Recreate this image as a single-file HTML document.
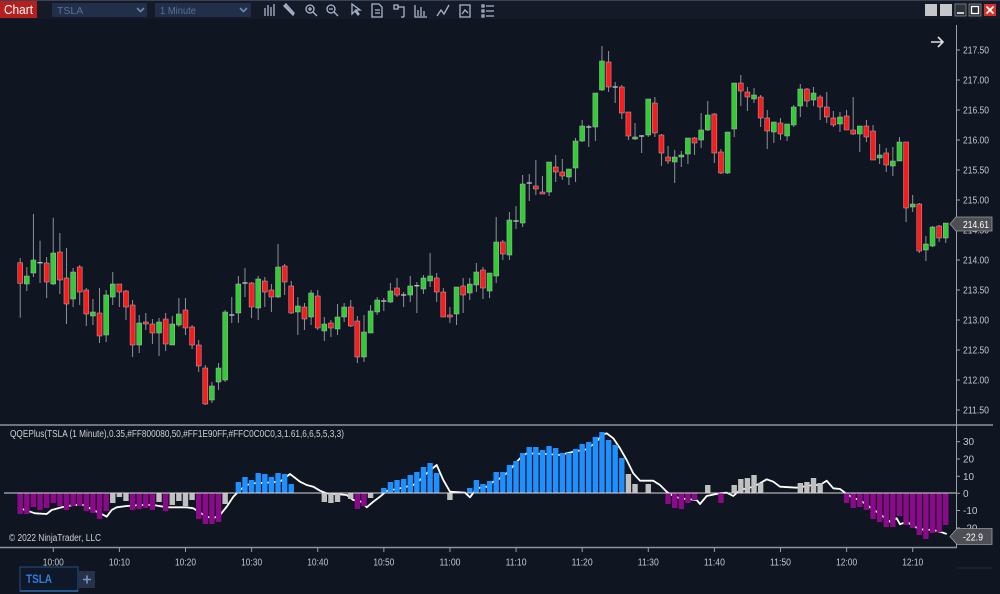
<!DOCTYPE html>
<html><head><meta charset="utf-8">
<style>
html,body{margin:0;padding:0;background:#0f1521;width:1000px;height:594px;overflow:hidden;font-family:"Liberation Sans",sans-serif;}
svg{display:block;}
</style></head>
<body>
<svg id="s" width="1000" height="594" viewBox="0 0 1000 594" xmlns="http://www.w3.org/2000/svg" font-family="Liberation Sans, sans-serif">
<rect x="0" y="0" width="1000" height="594" fill="#0f1521"/>
<rect x="0" y="0" width="1000" height="19" fill="#141a28"/>
<line x1="0" y1="0.5" x2="1000" y2="0.5" stroke="#3a4254"/>
<rect x="0" y="1" width="37" height="17" fill="#b5201f"/>
<text x="4" y="14" font-size="12.5" fill="#fff" textLength="29" lengthAdjust="spacingAndGlyphs">Chart</text>
<rect x="52" y="3" width="95" height="14" fill="#213048"/>
<text x="57" y="14" font-size="10.5" fill="#5a7099">TSLA</text>
<path d="M137 8 l3.5 3.5 l3.5 -3.5" stroke="#6f86b0" stroke-width="1.6" fill="none"/>
<rect x="155" y="3" width="96" height="14" fill="#213048"/>
<text x="160" y="14" font-size="10.5" fill="#5a7099" textLength="36" lengthAdjust="spacingAndGlyphs">1 Minute</text>
<path d="M240 8 l3.5 3.5 l3.5 -3.5" stroke="#6f86b0" stroke-width="1.6" fill="none"/>
<g stroke="#aab6cc" fill="none" stroke-width="1.3">
<path d="M265 8v8 M268 5v11 M271 7v9 M274 4v12"/>
<path d="M285 5 l8 9 M284 6 l2 -2 l8 9 l-1 2 z"/>
<circle cx="310" cy="9" r="4"/><path d="M313 12l4 4 M308 9h4 M310 7v4"/>
<circle cx="331" cy="9" r="4"/><path d="M334 12l4 4 M329 9h4"/>
<path d="M352 4 v10 l3 -3 l3 4 l1 -1 l-3 -4 h4 z"/>
<path d="M372 4 h7 l3 3 v10 h-10 z M375 10h5 M375 13h5"/>
<path d="M394 5h4v4h-4z M398 7h6 v10 M401 17h3"/>
<path d="M415 5v12h12 M418 10v6 M421 7v9 M424 11v5"/>
<path d="M437 16 l4 -6 l3 4 l5 -9"/>
<path d="M460 5h10v12h-10z M462 14 l3-4 l3 3"/>
<path d="M482 5h2v2h-2z M482 10h2v2h-2z M482 15h2v2h-2z M486 6h8 M486 11h8 M486 16h8"/>
</g>
<rect x="925" y="4" width="12" height="12" fill="#c4c6c9"/>
<rect x="940" y="4" width="12" height="12" fill="#c4c6c9"/>
<rect x="955" y="4" width="11" height="12" fill="#2c323c" stroke="#888" stroke-width="0.8"/>
<line x1="957" y1="13" x2="964" y2="13" stroke="#fff" stroke-width="1.5"/>
<rect x="969" y="4" width="12" height="12" fill="#2c323c" stroke="#888" stroke-width="0.8"/>
<rect x="971.5" y="6.5" width="7" height="7" fill="none" stroke="#fff" stroke-width="1.3"/>
<rect x="984" y="4" width="12" height="12" fill="#d9302b"/>
<path d="M986.5 6.5l7 7 M993.5 6.5l-7 7" stroke="#fff" stroke-width="1.8"/>
<path d="M931 42h12 M938 37l5 5l-5 5" stroke="#e0e0e0" stroke-width="1.6" fill="none"/>
<line x1="956.5" y1="25" x2="956.5" y2="548" stroke="#9aa0aa" stroke-width="1"/>
<line x1="0" y1="425" x2="993" y2="425" stroke="#8e949e" stroke-width="1.5"/>
<line x1="0" y1="547.5" x2="957" y2="547.5" stroke="#8e949e" stroke-width="1.5"/>
<line x1="957" y1="568" x2="993" y2="568" stroke="#262c38" stroke-width="1"/>
<g id="yax" font-size="10" fill="#c4c6ca"></g>
<g id="candles"></g>
<polyline id="qline" fill="none" stroke="#ffffff" stroke-width="1.8" stroke-linejoin="round"/>
<g id="hist"></g>
<line x1="4" y1="493" x2="956" y2="493" stroke="#d8d8d8" stroke-width="1"/>
<text x="10" y="437" font-size="10" fill="#d0d0d0" textLength="334" lengthAdjust="spacingAndGlyphs">QQEPlus(TSLA (1 Minute),0.35,#FF800080,50,#FF1E90FF,#FFC0C0C0,3,1.61,6,6,5,5,3,3)</text>
<text x="9" y="541" font-size="10" fill="#d0d0d0" textLength="92" lengthAdjust="spacingAndGlyphs">© 2022 NinjaTrader, LLC</text>
<path d="M950 224 l6 -7 h36 v14 h-36 z" fill="#4d4f55" stroke="#9a9ca0" stroke-width="0.8"/>
<text x="963" y="228" font-size="10" fill="#fff" textLength="26" lengthAdjust="spacingAndGlyphs">214.61</text>
<path d="M950 536.5 l7 -8 h35 v16 h-35 z" fill="#4d4f55" stroke="#9a9ca0" stroke-width="0.8"/>
<text x="963" y="540.5" font-size="10" fill="#fff" textLength="20" lengthAdjust="spacingAndGlyphs">-22.9</text>
<g id="xax" font-size="10" fill="#c4c6ca" text-anchor="middle"></g>
<rect x="20" y="567" width="58" height="24" fill="#0f1828" stroke="#27507f" stroke-width="1"/>
<line x1="20" y1="591" x2="78" y2="591" stroke="#2d6bb0" stroke-width="1.5"/>
<text x="26" y="583" font-size="12" font-weight="bold" fill="#2f7fd6" textLength="26" lengthAdjust="spacingAndGlyphs">TSLA</text>
<rect x="79" y="571" width="16" height="17" fill="#25324a"/>
<path d="M83 579.5h8 M87 575.5v8" stroke="#7f95bb" stroke-width="1.6"/>
</svg>
<script>
var NS="http://www.w3.org/2000/svg";
function el(t,a,p){var e=document.createElementNS(NS,t);for(var k in a)e.setAttribute(k,a[k]);p.appendChild(e);return e;}
var yax=document.getElementById('yax');
var pl=['217.50','217.00','216.50','216.00','215.50','215.00','214.50','214.00','213.50','213.00','212.50','212.00','211.50'];
for(var i=0;i<pl.length;i++){var y=50+i*30;el('line',{x1:956,y1:y,x2:960,y2:y,stroke:'#9aa0aa'},yax);var t=el('text',{x:963,y:y+3.5,textLength:26,lengthAdjust:'spacingAndGlyphs'},yax);t.textContent=pl[i];}
var il=[['30',441.7],['20',459],['10',476.3],['0',493.3],['-10',510.5],['-20',528]];
for(var i=0;i<il.length;i++){var y=il[i][1];el('line',{x1:956,y1:y,x2:960,y2:y,stroke:'#9aa0aa'},yax);var t=el('text',{x:963,y:y+3.5},yax);t.textContent=il[i][0];}
var xax=document.getElementById('xax');
var tl=['10:00','10:10','10:20','10:30','10:40','10:50','11:00','11:10','11:20','11:30','11:40','11:50','12:00','12:10'];
for(var i=0;i<tl.length;i++){var x=53.3+i*66.11;el('line',{x1:x,y1:548,x2:x,y2:552,stroke:'#9aa0aa'},xax);var t=el('text',{x:x,y:565.5,textLength:21,lengthAdjust:'spacingAndGlyphs'},xax);t.textContent=tl[i];}
var C=[
['r',262.7,283.3,258,317.7],['g',276,284,267,291],['g',260,273,214,277],['d',262.7,262.7,240.7,283],['r',263,282,257,298],
['g',253,284,217.7,285],['r',252,280,233,294],['r',278,304,248,324],['g',272,299,268,307],['r',267,292,265,305],
['r',290,314,288,326],['g',312,316,299,325],['r',313,336,288,343],['g',295,335,290,342],['g',284,297,272,305],
['r',284,292,284,307],['r',291,307,290,320],['r',305,345,300,357],['g',323,345,315,353],['r',322,324,313,330],
['r',324,333,319,344],['g',322,333,318,356],['r',319,344,313,351],['g',324,345,316,345],['g',314,325,298,327],
['r',310,328,298,335],['r',327,345,325,349],['r',345,366,340,372],['r',368,404,365,405],['g',386,400,382,403],
['g',368,382,363,390],['g',312,380,310,382],['d',315,315,297,323],['g',284,313,276,323],['d',283,283,268,297],
['r',283,307,282,318],['g',279,308,276,320],['r',281,292,277,307],['r',290,297,284,312],['g',267,297,244,298],
['r',266,282,264,295],['r',286,313,281,314],['g',306,312,297,335],['r',307,319,303,330],['g',293,317,290,325],
['r',296,328,290,330],['g',324,331,317,341],['r',323,328,320,337],['g',317,329,304,335],['g',307,317,303,322],
['r',307,326,300,327],['r',321,357,316,363],['g',332,357,315,362],['g',311,333,305,333],['g',300,312,297,315],
['d',301,301,298,311],['g',291,302,283,303],['r',288,295,278,297],['d',295,295,292,307],['g',286,295,276,302],
['d',285.7,285.7,282,313],['g',278,289,275,294],['g',276,281,253,287],['r',278,292,273,302],['r',292,317,288,317],
['r',315,317,307,323],['g',287,314,287,325],['r',286,295,278,313],['g',284,293,278,300],['g',272,285,263,292],
['r',270,288,267,299],['g',273,291,273,298],['g',242,276,217,283],['r',242,254,240,260],['g',220,255,212,260],
['d',221,221,206,229],['g',184,223,175,227],['d',183,183,174,201],['r',186,189,160,195],['r',192,194,176,194],
['g',162,192,162,196],['r',167,172,155,182],['r',172,176,159,180],['g',169,177,169,185],['g',141,168,138,182],
['g',126,141,120,142],['d',127,127,125,147],['g',93,127,93,141],['g',61,90,46,91],['r',62,87,51,92],
['d',87,87,82,103],['r',87,113,85,119],['r',112,136,112,140],['g',137,139,123,140],['d',136,136,135,153],
['g',99,135,99,137],['r',103,133,97,137],['r',135,153,134,166],['r',157,161,146,164],['g',157,162,150,183],
['g',155,157,151,167],['g',138,154,138,164],['r',138,143,137,155],['g',130,140,113,148],['g',115,130,101,131],
['r',114,153,113,163],['r',152,173,149,174],['g',132,173,132,174],['g',83,129,83,137],['r',83,91,75,106],
['r',92,97,87,111],['g',95,99,88,103],['r',97,118,95,127],['r',118,131,110,149],['g',122,132,122,143],
['r',123,134,118,140],['g',124,136,124,141],['g',107,125,105,127],['g',89,106,84,117],['r',89,101,88,107],
['g',93,100,87,106],['r',97,107,95,120],['r',107,117,92,123],['r',118,125,111,127],['g',117,124,112,132],
['r',116,130,110,130],['r',130,134,97,135],['g',126,134,126,152],['r',126,137,120,142],['r',131,160,125,160],
['g',155,158,144,164],['r',153,165,148,172],['g',161,166,147,176],['g',142,161,137,161],['r',142,208,142,222],
['g',204,207,195,212],['r',204,251,203,253],['g',244,250,236,261],['g',227,246,226,247],['r',226,238,225,242],
['g',223,238,223,243]];
var cg=document.getElementById('candles');
function X(i){return 20.2+i*6.611;}
for(var i=0;i<C.length;i++){var c=C[i],x=X(i);
el('line',{x1:x,y1:c[3],x2:x,y2:c[4],stroke:'#8d929c','stroke-width':1},cg);
if(c[0]=='d'){el('line',{x1:x-2.6,y1:c[1],x2:x+2.6,y2:c[1],stroke:'#b8bcc4','stroke-width':1.4},cg);}
else{var h=Math.max(c[2]-c[1],1.5);el('rect',{x:x-2.5,y:c[1],width:5,height:h,fill:c[0]=='g'?'#32cd32':'#ff1a1a',stroke:'#b0b4bb','stroke-width':0.5},cg);}
}
var H={0:['p',514],1:['p',514],2:['p',507],3:['p',510],4:['p',508],5:['p',503],6:['p',506],7:['p',510],8:['p',506],9:['p',506],10:['p',511],11:['p',513],12:['p',519],13:['p',511],14:['s',503],15:['s',497],16:['s',501],17:['p',510],18:['p',509],19:['p',508],20:['p',510],21:['s',502],22:['p',511],23:['s',505],24:['s',501],25:['s',506],26:['s',500],27:['p',519],28:['p',524],29:['p',524],30:['p',522],31:['s',504],
33:['b',482],34:['b',477],35:['b',480],36:['b',473],37:['b',474],38:['b',477],39:['b',473],40:['b',474],41:['b',484],46:['s',502],47:['s',503],48:['s',502],50:['s',499],51:['p',509],52:['p',506],53:['s',498],
55:['b',488],56:['b',482],57:['b',480],58:['b',479],59:['b',475],60:['b',472],61:['b',467],62:['b',463],63:['b',473],65:['s',500],68:['b',488],69:['b',480],70:['b',484],71:['b',481],72:['b',472],73:['b',472],74:['b',465],75:['b',461],76:['b',453],77:['b',447],78:['b',447],79:['b',450],80:['b',446],81:['b',448],82:['b',453],83:['b',453],84:['b',449],85:['b',444],86:['b',442],87:['b',437],88:['b',432],89:['b',440],90:['b',445],91:['b',458],92:['s',474],93:['s',484],95:['s',484],
98:['p',504],99:['p',508],100:['p',509],101:['p',503],102:['p',500],104:['s',485],106:['p',503],108:['s',485],109:['s',479],110:['s',478],111:['s',475],112:['s',483],118:['s',483],119:['s',482],120:['s',478],121:['s',483],
125:['p',503],126:['p',508],127:['p',507],128:['p',510],129:['p',519],130:['p',522],131:['p',527],132:['p',527],133:['p',516],134:['p',525],135:['p',528],136:['p',535],137:['p',539],138:['p',533],139:['p',532],140:['p',525]};
var hg=document.getElementById('hist');var col={p:'#8a0a8a',b:'#1e90ff',s:'#c0c0c0'};
for(var k in H){var i=+k,x=X(i),v=H[k][1],y0=Math.min(v,493),y1=Math.max(v,493);
el('rect',{x:x-2.7,y:y0,width:5.4,height:y1-y0,fill:col[H[k][0]]},hg);}
var P=[[20,508.3],[35,513.3],[46.7,514],[51.7,510],[61.7,507.3],[73.3,505],[83.3,505],[90,508.3],[96.7,511.7],[101.7,514],[106.7,516.7],[111.7,510],[116.7,507.3],[126.7,506],[140,505],[153.3,505],[166.7,507.3],[186.7,507.3],[193.3,508.3],[200,512.7],[206.7,516.7],[213.3,518.3],[220,515],[226.7,506.7],[233.3,496.7],[240,490],[246.7,485],[253.3,483.3],[266.7,482.7],[280,481.7],[290,474],[300,481.7],[306.7,485],[313.3,486.7],[320,490.7],[326.7,493.3],[346.7,495],[353.3,500],[361.7,501.7],[366.7,507.3],[373.3,501.7],[380,496.7],[386.7,491],[400,488.3],[413.3,485],[420,480],[426.7,473.3],[436.7,465],[443.3,480],[450,491.7],[465,492.7],[470,497.3],[476.7,488.3],[486.7,486.7],[493.3,481.7],
[500,478.3],[506.7,473.3],[520,458.3],[526.7,453.3],[546.7,454],[560,455],[573.3,451.7],[586.7,449.3],[596.7,441.7],[601.7,435],[606.7,433.3],[613.3,438.3],[620,448.3],[626.7,460],[633.3,473.3],[640,480.7],[653.3,480.7],[660,485],[666.7,491.7],[673.3,496],[680,498.3],[696.7,500],[700,504],[706.7,496],[720,493.3],[726.7,492.7],[733.3,496],[740,490],[753.3,486.7],[760,483.3],[766.7,479.3],[773.3,481.7],[780,486.7],[796.7,487.7],[813.3,485],[820,485],[826.7,480.7],[833.3,488.3],[840,489],[845,492.7],[853.3,498.3],[860,500],[866.7,505],[876.7,511.7],[883.3,516.7],[890,521.7],[896.7,518.3],[900,524.3],[906.7,521.7],[913.3,526],[920,529.3],[933.3,530],[940,531.7],[946.7,534]];
document.getElementById('qline').setAttribute('points',P.map(function(p){return p[0]+','+p[1];}).join(' '));
</script>
</body></html>
